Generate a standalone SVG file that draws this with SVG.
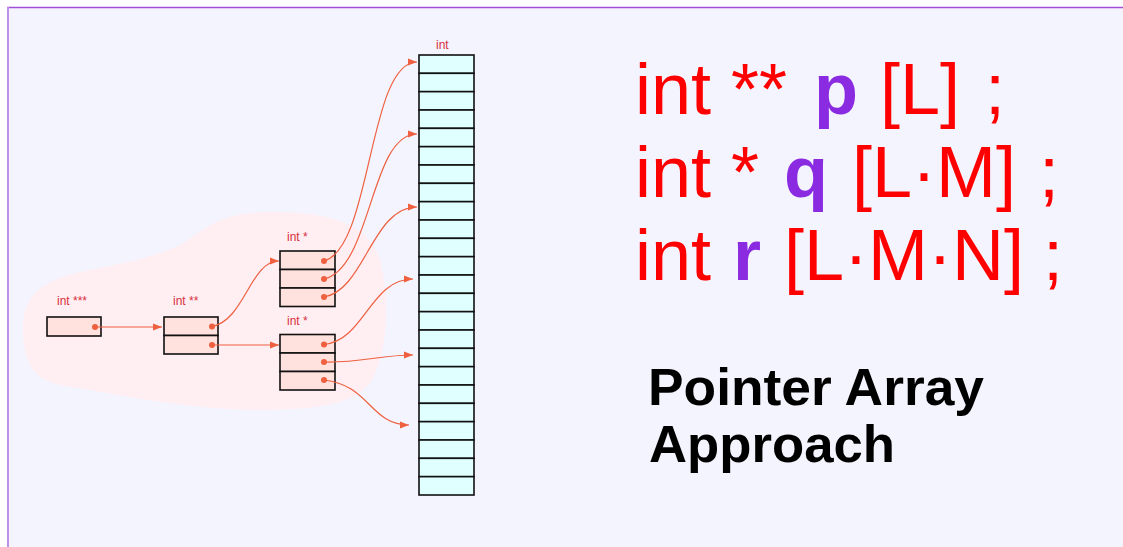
<svg xmlns="http://www.w3.org/2000/svg" width="1123" height="547" viewBox="0 0 1123 547">
<defs>
<marker id="ah" markerUnits="userSpaceOnUse" markerWidth="10" markerHeight="8" refX="9" refY="4" orient="auto">
<path d="M0,0.5 L9,4 L0,7.5 Z" fill="#ee6040"/>
</marker>
<style>
.lbl{font-family:"Liberation Sans",Arial,sans-serif;font-size:12px;fill:#d8303c}
.pbox{fill:#ffe2de;stroke:#111;stroke-width:1.6}
.cell{fill:#e0ffff;stroke:#111;stroke-width:1.6}
.dot{fill:#ee6040}
.con path{fill:none;stroke:#ee6040;stroke-width:1.2;marker-end:url(#ah)}
.big{font-family:"Liberation Sans",Arial,sans-serif;font-size:72px;fill:#ff0000}
.v{fill:#8a2be2;font-weight:bold}
.title{font-family:"Liberation Sans",Arial,sans-serif;font-size:52.5px;font-weight:bold;fill:#000}
</style>
</defs>
<rect x="0" y="0" width="1123" height="547" fill="#ffffff"/>
<rect x="8" y="8" width="1115" height="539" fill="#f4f4fe"/>
<line x1="7" y1="7.5" x2="1123" y2="7.5" stroke="#a050d8" stroke-width="1.5"/>
<line x1="8" y1="7" x2="8" y2="547" stroke="#c090e8" stroke-width="2"/>

<path id="blob" d="M23,330 C22,290 50,278 90,270 C130,262 160,255 180,245 C205,230 215,213 270,212 C330,211 370,225 380,260 C390,300 388,350 372,380 C355,408 300,410 250,410 C180,408 120,395 60,385 C30,378 24,360 23,330 Z" fill="#ffeef2"/>

<g id="p3">
<text class="lbl" x="57" y="305">int ***</text>
<rect class="pbox" x="47" y="317" width="54" height="19"/>
<circle class="dot" cx="95" cy="327" r="3"/>
</g>

<g id="p2">
<text class="lbl" x="173" y="305">int **</text>
<rect class="pbox" x="164" y="317" width="54" height="18.5"/>
<rect class="pbox" x="164" y="335.5" width="54" height="18.5"/>
<circle class="dot" cx="212" cy="326.5" r="3"/>
<circle class="dot" cx="212" cy="345" r="3"/>
</g>

<g id="p1a">
<text class="lbl" x="287" y="241">int *</text>
<rect class="pbox" x="280" y="251" width="55" height="18.5"/>
<rect class="pbox" x="280" y="269.5" width="55" height="18.5"/>
<rect class="pbox" x="280" y="288" width="55" height="18.5"/>
<circle class="dot" cx="324" cy="261" r="3"/>
<circle class="dot" cx="324" cy="279" r="3"/>
<circle class="dot" cx="324" cy="297" r="3"/>
</g>

<g id="p1b">
<text class="lbl" x="287" y="325">int *</text>
<rect class="pbox" x="280" y="334.5" width="55" height="18.5"/>
<rect class="pbox" x="280" y="353" width="55" height="18.5"/>
<rect class="pbox" x="280" y="371.5" width="55" height="18.5"/>
<circle class="dot" cx="324" cy="344.5" r="3"/>
<circle class="dot" cx="324" cy="362" r="3"/>
<circle class="dot" cx="324" cy="380" r="3"/>
</g>

<g id="arr">
<text class="lbl" x="436" y="49">int</text>
<rect class="cell" x="419" y="55" width="55" height="18.33"/>
<rect class="cell" x="419" y="73.33" width="55" height="18.33"/>
<rect class="cell" x="419" y="91.67" width="55" height="18.33"/>
<rect class="cell" x="419" y="110" width="55" height="18.33"/>
<rect class="cell" x="419" y="128.33" width="55" height="18.33"/>
<rect class="cell" x="419" y="146.67" width="55" height="18.33"/>
<rect class="cell" x="419" y="165" width="55" height="18.33"/>
<rect class="cell" x="419" y="183.33" width="55" height="18.33"/>
<rect class="cell" x="419" y="201.67" width="55" height="18.33"/>
<rect class="cell" x="419" y="220" width="55" height="18.33"/>
<rect class="cell" x="419" y="238.33" width="55" height="18.33"/>
<rect class="cell" x="419" y="256.67" width="55" height="18.33"/>
<rect class="cell" x="419" y="275" width="55" height="18.33"/>
<rect class="cell" x="419" y="293.33" width="55" height="18.33"/>
<rect class="cell" x="419" y="311.67" width="55" height="18.33"/>
<rect class="cell" x="419" y="330" width="55" height="18.33"/>
<rect class="cell" x="419" y="348.33" width="55" height="18.33"/>
<rect class="cell" x="419" y="366.67" width="55" height="18.33"/>
<rect class="cell" x="419" y="385" width="55" height="18.33"/>
<rect class="cell" x="419" y="403.33" width="55" height="18.33"/>
<rect class="cell" x="419" y="421.67" width="55" height="18.33"/>
<rect class="cell" x="419" y="440" width="55" height="18.33"/>
<rect class="cell" x="419" y="458.33" width="55" height="18.33"/>
<rect class="cell" x="419" y="476.67" width="55" height="18.33"/>
</g>

<g id="connectors" class="con">
<path d="M95,327 L162,327"/>
<path d="M212,326.5 C245,320 250,261 279,261"/>
<path d="M212,345 L279,345"/>
<path d="M324,261 C372,248 368,62 417,62"/>
<path d="M324,279 C372,268 370,134 417,134"/>
<path d="M324,297 C365,290 372,207 417,207"/>
<path d="M324,344.5 C365,340 370,279 413,279"/>
<path d="M324,362 C360,363 380,355 413,355"/>
<path d="M324,380 C370,385 370,425 409,425"/>
</g>

<g id="code">
<text class="big" y="114"><tspan x="635">int **</tspan><tspan class="v" x="814">p</tspan><tspan x="880">[L]</tspan><tspan x="985">;</tspan></text>
<text class="big" y="197"><tspan x="635">int *</tspan><tspan class="v" x="784">q</tspan><tspan x="852">[L·M]</tspan><tspan x="1039">;</tspan></text>
<text class="big" y="280"><tspan x="635">int</tspan><tspan class="v" x="733">r</tspan><tspan x="784">[L·M·N]</tspan><tspan x="1043">;</tspan></text>
</g>
<g id="title">
<text class="title" x="648" y="405" textLength="336" lengthAdjust="spacingAndGlyphs">Pointer Array</text>
<text class="title" x="649" y="462" textLength="246" lengthAdjust="spacingAndGlyphs">Approach</text>
</g>
</svg>
